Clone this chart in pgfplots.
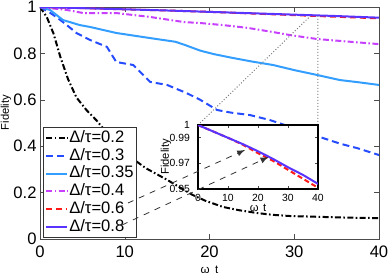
\documentclass[border=0pt]{standalone}
\usepackage{fontspec}
\setmainfont{Liberation Sans}
\usepackage{pgfplots}
\pgfplotsset{compat=1.18}
\definecolor{cA}{rgb}{0,0,0}
\definecolor{cB}{rgb}{0.15,0.3,1}
\definecolor{cC}{rgb}{0.2,0.62,1}
\definecolor{cD}{rgb}{0.78,0.25,1}
\definecolor{cE}{rgb}{1,0.1,0.1}
\definecolor{cF}{rgb}{0.35,0.2,1}
\begin{document}
\begin{tikzpicture}
\useasboundingbox (-20pt,-17pt) rectangle (174pt,119.5pt);
\begin{axis}[name=main, scale only axis, width=169.5pt, height=116pt,
  xmin=0, xmax=40, ymin=0, ymax=1,
  xtick={0,10,20,30,40}, ytick={0,0.2,0.4,0.6,0.8,1},
  /pgf/number format/assume math mode=true,
  font=\fontsize{8.3}{10}\selectfont,
  tick label style={font=\fontsize{8.3}{10}\selectfont},
  yticklabel style={xshift=1.8pt},
  axis line style={black!70}, tick style={black!70},
  major tick length=2.5pt,
  xlabel={ω\hspace{0.45em}t}, ylabel={Fidelity},
  xlabel style={font=\fontsize{5.8}{7}\selectfont, yshift=3pt},
  ylabel style={font=\fontsize{5.6}{7}\selectfont, at={(axis description cs:-0.1,0.545)}, anchor=center},
  legend style={at={(0.009,0.006)}, anchor=south west, draw=black!80,
    font=\fontsize{8.3}{9.5}\selectfont, inner sep=1pt, row sep=0.6pt,
    nodes={inner sep=0.4pt, text height=5.9pt, text depth=1.6pt},
    cells={anchor=west}},
  legend image code/.code={\draw[#1] (0pt,0pt) -- (10.5pt,0pt);},
  every axis plot/.append style={line width=1pt},
  clip=true]
\addplot[cA, dash pattern=on 3pt off 1.2pt on 0.8pt off 1.2pt] coordinates {
(0,1) (0.8,0.957) (1.6,0.885) (2.4,0.785) (3.3,0.69) (4.3,0.61) (5.5,0.555) (6.7,0.51)
(8.5,0.43) (10.4,0.36) (12.5,0.305) (15,0.255) (18,0.19) (19.5,0.165) (21.6,0.138)
(23.5,0.124) (25.6,0.112) (27.5,0.104) (29.5,0.099) (33.4,0.095) (36.5,0.092) (40,0.09)};
\addlegendentry{Δ/τ=0.2}
\addplot[cB, dash pattern=on 3.5pt off 2pt] coordinates {
(0,1) (1.2,0.975) (2.4,0.944) (3.4,0.915) (4.3,0.888) (5.9,0.858) (7.9,0.828) (9,0.763)
(11,0.75) (13,0.677) (15,0.664) (17.3,0.629) (18.9,0.6) (20.9,0.556) (22.5,0.545)
(24.8,0.534) (27.1,0.513) (29,0.49) (31,0.46) (33.4,0.435) (35.5,0.41) (37.4,0.392) (40,0.362)};
\addlegendentry{Δ/τ=0.3}
\addplot[cC, solid] coordinates {
(0,1) (1.2,0.987) (2.7,0.944) (4.7,0.922) (5.9,0.914) (9,0.888) (13,0.866) (16,0.85) (17.2,0.835)
(18.9,0.812) (20.5,0.797) (22.8,0.78) (25,0.765) (27.5,0.75) (30,0.728) (32.7,0.707)
(35.4,0.685) (37.5,0.676) (40,0.664)};
\addlegendentry{Δ/τ=0.35}
\addplot[cD, dash pattern=on 3pt off 1.2pt on 0.8pt off 1.2pt] coordinates {
(0,1) (3.2,0.987) (5.1,0.974) (9,0.974) (13,0.957) (17,0.935) (18.9,0.931) (21.6,0.922)
(24.5,0.91) (27.5,0.892) (29.5,0.879) (32.7,0.862) (36,0.852) (40,0.84)};
\addlegendentry{Δ/τ=0.4}
\addplot[cE, dash pattern=on 3pt off 2pt] coordinates {
(0,1) (5,0.995) (10,0.99) (15,0.985) (20,0.979) (25,0.972) (30,0.965) (35,0.958) (40,0.951)};
\addlegendentry{Δ/τ=0.6}
\addplot[cF, solid] coordinates {
(0,1) (5,0.995) (10,0.99) (15,0.985) (20,0.979) (25,0.973) (30,0.967) (35,0.961) (40,0.954)};
\addlegendentry{Δ/τ=0.8}
\coordinate (q1) at (axis cs:31.9,0.961);
\coordinate (q2) at (axis cs:32.8,0.961);
\node[font=\fontsize{8.3}{10}\selectfont] at (rel axis cs:0,1) [xshift=-13pt,yshift=-3.3pt] {(b)};
\end{axis}
\draw[densely dotted, gray, line width=0.5pt] (79pt,57pt) -- (q1);
\draw[densely dotted, gray, line width=0.5pt] (139pt,57pt) -- (q2);
\begin{axis}[name=inset, at={(79pt,25pt)}, anchor=south west,
  scale only axis, width=60pt, height=32pt,
  xmin=0, xmax=40, ymin=0.95, ymax=1,
  xtick={0,10,20,30,40}, ytick={0.95,0.97,0.99,1},
  yticklabels={0.95,0.97,0.99,1},
  /pgf/number format/assume math mode=true,
  font=\fontsize{5.2}{6}\selectfont,
  tick label style={font=\fontsize{5.2}{6}\selectfont},
  xticklabel style={yshift=1pt},
  yticklabel style={anchor=east, xshift=-0.5pt},
  axis line style={black, line width=0.8pt}, tick style={black!70, line width=0.4pt},
  major tick length=1.5pt,
  axis background/.style={fill=white},
  xlabel={ω\hspace{0.4em}t},
  xlabel style={font=\fontsize{5.6}{6}\selectfont, yshift=5.5pt},
  every axis plot/.append style={line width=1pt}]
\addplot[cE, dash pattern=on 2.5pt off 1.5pt] coordinates {
(0,1) (5,0.995) (10,0.99) (15,0.9845) (20,0.978) (25,0.972) (30,0.965) (35,0.958) (40,0.951)};
\addplot[cF, solid] coordinates {
(0,1) (5,0.995) (10,0.99) (15,0.985) (20,0.9795) (25,0.9735) (30,0.967) (35,0.961) (40,0.954)};
\coordinate (p1) at (axis cs:15.7,0.9805);
\coordinate (p2) at (axis cs:23.5,0.975);
\end{axis}
\node[rotate=90, font=\fontsize{5.6}{6}\selectfont, inner sep=0pt] at (63pt,41pt) {Fidelity};
\draw[dashed, black!80, line width=0.4pt, -latex] (38.5pt,15.5pt) -- (p1);
\draw[dashed, black!80, line width=0.4pt, -latex] (41pt,7pt) -- (p2);
\end{tikzpicture}
\end{document}
